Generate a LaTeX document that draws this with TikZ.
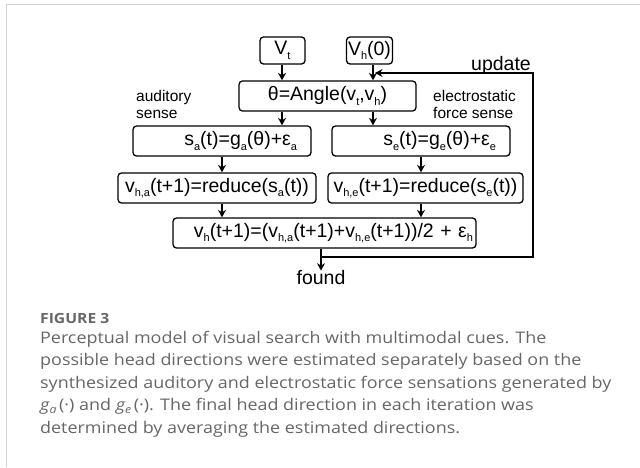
\documentclass[tikz,border=0pt]{standalone}
\usepackage{fontspec}
\setmainfont{Liberation Sans}
\newfontfamily\capfont[FakeStretch=1.12]{Open Sans}
\usetikzlibrary{arrows.meta}
\definecolor{framegray}{HTML}{D2D2D2}
\definecolor{capgray}{HTML}{666666}
\newcommand{\lowidx}[1]{\raisebox{-0.45ex}{\fontsize{11}{11}\selectfont #1}}
\newcommand{\capidx}[1]{\raisebox{-0.25ex}{\fontsize{11}{11}\selectfont #1}}

\begin{document}
\begin{tikzpicture}[
		x=1pt, y=-1pt,
		box/.style={
			draw, rounded corners=3.5pt, line width=1.3pt,
			minimum height=30, inner sep=0pt,
			font=\fontsize{19.5}{20}\selectfont,
		},
		flow/.style={
			-{Stealth[length=7.5pt,width=8pt,inset=2.5pt]}, line width=1.3pt,
		},
		side/.style={
			align=left, inner sep=0pt,
			font=\fontsize{15.5}{17}\selectfont,
		},
		caption/.style={
			inner sep=0pt, text=capgray,
		},
	]
		\useasboundingbox (0,0) rectangle (640,467);
		\draw[framegray, line width=1.5pt] (6.5,467) -- (6.5,4.5) -- (640,4.5);

		% columns of the two sense paths
		\coordinate (lcol) at (282,0);
		\coordinate (rcol) at (373,0);

		\node[box, minimum width=45, minimum height=27] (vt) at (282.5,50.5) {V\lowidx{t}};
		\node[box, minimum width=46, minimum height=27] (vh0) at (369.5,50.5) {V\lowidx{h}(0)};
		\node[box, minimum width=177] (ang) at (327.5,96) {θ=Angle(v\lowidx{t},v\lowidx{h})};
		\node[box, text width=150, inner xsep=14, align=right] (sa) at (222,141) {s\lowidx{a}(t)=g\lowidx{a}(θ)+ε\lowidx{a}};
		\node[box, text width=150, inner xsep=14, align=right] (se) at (421,141) {s\lowidx{e}(t)=g\lowidx{e}(θ)+ε\lowidx{e}};
		\node[box, minimum width=198] (vha) at (217,188) {v\lowidx{h,a}(t+1)=reduce(s\lowidx{a}(t))};
		\node[box, minimum width=195] (vhe) at (425.5,188) {v\lowidx{h,e}(t+1)=reduce(s\lowidx{e}(t))};
		\node[box, text width=297, inner xsep=3, align=right] (bot) at (324.5,233) {v\lowidx{h}(t+1)=(v\lowidx{h,a}(t+1)+v\lowidx{h,e}(t+1))/2 + ε\lowidx{h}};
		\node[inner sep=0pt, font=\fontsize{19.5}{20}\selectfont] (fnd) at (321,278) {found};
		\node[anchor=base east, inner sep=0pt, font=\fontsize{19.5}{20}\selectfont] (upd) at (531,70) {update};
		\node[side, anchor=north west] (aud) at (136,90) {auditory\\sense};
		\node[side, anchor=north west] (ele) at (433,90) {electrostatic\\force sense};

		\draw[flow] (lcol |- vt.south) -- (lcol |- ang.north);
		\draw[flow] (rcol |- vh0.south) -- (rcol |- ang.north);
		\draw[flow] (lcol |- ang.south) -- (lcol |- sa.north);
		\draw[flow] (rcol |- ang.south) -- (rcol |- se.north);
		\draw[flow] (sa.south) -- (sa.south |- vha.north);
		\draw[flow] (se.south) -- (se.south |- vhe.north);
		\draw[flow] (sa.south |- vha.south) -- (sa.south |- bot.north);
		\draw[flow] (se.south |- vhe.south) -- (se.south |- bot.north);
		\draw[flow] (fnd.north |- bot.south) -- (fnd.north);

		% feedback loop
		\coordinate (fork) at (321,257);
		\coordinate (loop) at (533,73);
		\draw[flow] (fork) -| (loop) -- ([xshift=2]rcol |- loop);

		\node[caption, anchor=base west, font=\capfont\bfseries\fontsize{14}{14}\selectfont] (fig) at (40,323) {FIGURE 3};
		\node[caption, anchor=north west, align=left, font=\capfont\fontsize{16}{22.5}\selectfont] (cap) at (40,331) {Perceptual model of visual search with multimodal cues. The\\
			possible head directions were estimated separately based on the\\
			synthesized auditory and electrostatic force sensations generated by\\
			{\itshape g\capidx{a}}\,(·) and {\itshape g\capidx{e}}\,(·). The final head direction in each iteration was\\
			determined by averaging the estimated directions.};
	\end{tikzpicture}
\end{document}
